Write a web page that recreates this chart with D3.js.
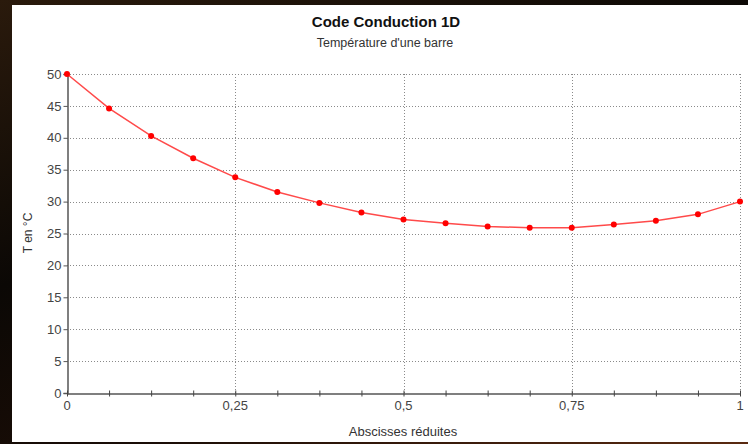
<!DOCTYPE html>
<html>
<head>
<meta charset="utf-8">
<script src="https://cdn.jsdelivr.net/npm/d3@7"></script>
<style>
  html, body { margin: 0; padding: 0; }
  body { width: 748px; height: 444px; overflow: hidden;
         background: linear-gradient(160deg, #2a1a0c 0%, #0b0805 40%, #1a0d06 70%, #5a2a10 100%); }
  svg { display: block; font-family: "Liberation Sans", Arial, sans-serif; }
</style>
</head>
<body>
<svg id="chart" width="748" height="444"></svg>
<script>
// Abscisses réduites (17 noeuds)
var abscisses = [0, 0.0625, 0.125, 0.1875, 0.25, 0.3125, 0.375, 0.4375, 0.5,
                 0.5625, 0.625, 0.6875, 0.75, 0.8125, 0.875, 0.9375, 1];
// Température en °C
var temperatures = [50, 44.6, 40.3, 36.8, 33.8, 31.5, 29.8, 28.3, 27.2,
                    26.6, 26.1, 25.9, 25.9, 26.4, 27.0, 28.0, 30];
var yTicks = [0, 5, 10, 15, 20, 25, 30, 35, 40, 45, 50];
var xGrid = [0.25, 0.5, 0.75, 1];
var xLabels = [0, 0.25, 0.5, 0.75, 1];

var svg = d3.select("#chart");

// panneau blanc
svg.append("rect").attr("x", 12).attr("y", 5).attr("width", 736).attr("height", 437)
    .attr("fill", "#ffffff");

var x = d3.scaleLinear().domain([0, 1]).range([67, 740]);
var y = d3.scaleLinear().domain([0, 50]).range([393, 74]);

// grille pointillée
svg.append("g").selectAll("line").data(yTicks.filter(function(d){ return d > 0; }))
    .enter().append("line")
    .attr("x1", x(0)).attr("x2", x(1))
    .attr("y1", function(d){ return Math.round(y(d)) + 0.5; })
    .attr("y2", function(d){ return Math.round(y(d)) + 0.5; })
    .attr("stroke", "#8a8a8a").attr("stroke-dasharray", "1,2");

svg.append("g").selectAll("line").data(xGrid)
    .enter().append("line")
    .attr("x1", function(d){ return Math.round(x(d)) + 0.5; })
    .attr("x2", function(d){ return Math.round(x(d)) + 0.5; })
    .attr("y1", y(50)).attr("y2", y(0))
    .attr("stroke", "#8a8a8a").attr("stroke-dasharray", "1,2");

// axe Y
var yAxis = d3.axisLeft(y).tickValues(yTicks).tickSize(4).tickPadding(2)
    .tickFormat(function(d){ return d; });
var gy = svg.append("g").attr("transform", "translate(" + (x(0) + 0.5) + ",0)").call(yAxis);
gy.select(".domain").attr("stroke", "#555").attr("stroke-width", 1.5);
gy.selectAll(".tick line").attr("stroke", "#555");
gy.selectAll(".tick text").attr("fill", "#444").attr("font-size", 13)
    .attr("font-family", "Liberation Sans, Arial, sans-serif");

// axe X : petites graduations à chaque noeud
var xAxis = d3.axisBottom(x).tickValues(abscisses).tickSize(0).tickFormat("");
var gx = svg.append("g").attr("transform", "translate(0," + (y(0) + 0.5) + ")").call(xAxis);
gx.select(".domain").attr("stroke", "#555").attr("stroke-width", 1.5);
gx.selectAll(".tick").append("line").attr("y1", -3).attr("y2", 3)
    .attr("stroke", "#444").attr("stroke-width", 1);

svg.append("g").selectAll("text").data(xLabels).enter().append("text")
    .attr("x", function(d){ return x(d); })
    .attr("y", 410)
    .attr("text-anchor", "middle")
    .attr("font-size", 13).attr("fill", "#444")
    .text(function(d){ return String(d).replace(".", ","); });

// courbe
var pts = abscisses.map(function(a, i){ return [a, temperatures[i]]; });
var line = d3.line().x(function(d){ return x(d[0]); }).y(function(d){ return y(d[1]); });
svg.append("path").datum(pts).attr("d", line)
    .attr("fill", "none").attr("stroke", "#ff4a4a").attr("stroke-width", 1.5);

svg.append("g").selectAll("circle").data(pts).enter().append("circle")
    .attr("cx", function(d){ return x(d[0]); })
    .attr("cy", function(d){ return y(d[1]); })
    .attr("r", 3).attr("fill", "#ff0000");

// titres
svg.append("text").attr("x", 386).attr("y", 27).attr("text-anchor", "middle")
    .attr("font-size", 15).attr("font-weight", "bold").attr("fill", "#111")
    .text("Code Conduction 1D");
svg.append("text").attr("x", 385).attr("y", 47).attr("text-anchor", "middle")
    .attr("font-size", 12.5).attr("fill", "#333")
    .text("Température d'une barre");
svg.append("text").attr("x", 403).attr("y", 436).attr("text-anchor", "middle")
    .attr("font-size", 13).attr("fill", "#333")
    .text("Abscisses réduites");
svg.append("text").attr("transform", "translate(32,233) rotate(-90)")
    .attr("text-anchor", "middle").attr("font-size", 12).attr("fill", "#333")
    .text("T en °C");
</script>
</body>
</html>
